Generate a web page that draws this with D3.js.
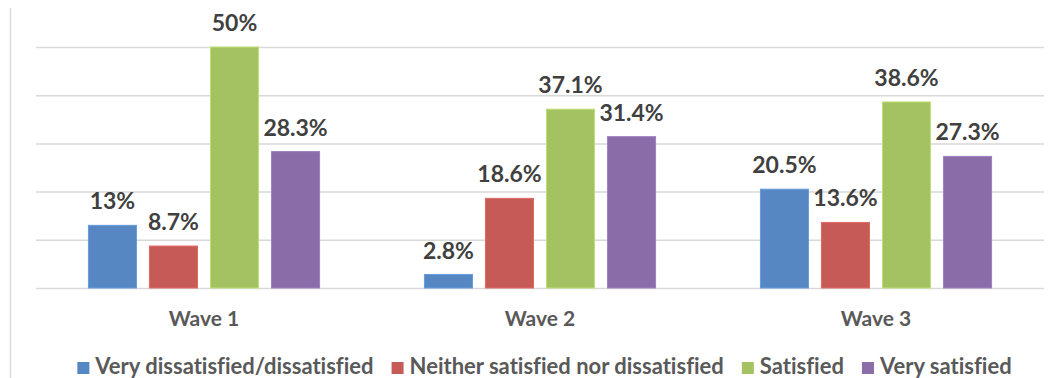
<!DOCTYPE html>
<html>
<head>
<meta charset="utf-8">
<script src="https://cdn.jsdelivr.net/npm/d3@7"></script>
<style>
  html, body { margin: 0; padding: 0; background: #fff; }
  svg { display: block; }
  text { font-family: Lato, "Open Sans", sans-serif; font-weight: bold; font-variant-ligatures: none; }
</style>
</head>
<body>
<svg id="chart" width="1056" height="378"></svg>
<script>
// Satisfaction share (%) by survey wave
const waves = ["Wave 1", "Wave 2", "Wave 3"];
const seriesNames = [
  "Very dissatisfied/dissatisfied",
  "Neither satisfied nor dissatisfied",
  "Satisfied",
  "Very satisfied"
];
const veryDissatisfied = [13, 2.8, 20.5];
const neither = [8.7, 18.6, 13.6];
const satisfied = [50, 37.1, 38.6];
const verySatisfied = [28.3, 31.4, 27.3];
const valueLabels = [
  ["13%", "2.8%", "20.5%"],
  ["8.7%", "18.6%", "13.6%"],
  ["50%", "37.1%", "38.6%"],
  ["28.3%", "31.4%", "27.3%"]
];
const yTicks = [0, 10, 20, 30, 40, 50];
const colors = ["#5687C3", "#C55A56", "#A5C263", "#8A6DA8"];

const seriesValues = [veryDissatisfied, neither, satisfied, verySatisfied];

const svg = d3.select("#chart");
const plot = { left: 36, right: 1044, top: 47, bottom: 288 };

const y = d3.scaleLinear().domain([0, 50]).range([plot.bottom, plot.top]);
const x = d3.scaleBand().domain(waves).range([plot.left, plot.right]).padding(0);
const groupWidth = x.bandwidth() * 0.688;
const xs = d3.scaleBand()
  .domain(d3.range(seriesNames.length))
  .range([-groupWidth / 2, groupWidth / 2])
  .paddingInner(0.213)
  .paddingOuter(0);

// left frame line
svg.append("line")
  .attr("x1", 10.5).attr("x2", 10.5)
  .attr("y1", 8).attr("y2", 378)
  .attr("stroke", "#d9d9d9").attr("stroke-width", 1.5);

// horizontal gridlines
const yAxis = d3.axisLeft(y).tickValues(yTicks).tickSize(-(plot.right - plot.left)).tickFormat("");
const gy = svg.append("g").attr("transform", `translate(${plot.left},0)`).call(yAxis);
gy.select(".domain").remove();
gy.selectAll(".tick line").attr("stroke", "#d9d9d9").attr("stroke-width", 1.5);

// bars
const groups = svg.append("g").selectAll("g")
  .data(seriesNames)
  .join("g")
  .attr("fill", (d, i) => colors[i]);

groups.each(function (name, si) {
  const g = d3.select(this);
  const data = waves.map((w, wi) => ({ wave: w, value: seriesValues[si][wi], label: valueLabels[si][wi] }));
  g.selectAll("rect")
    .data(data)
    .join("rect")
    .attr("x", d => x(d.wave) + x.bandwidth() / 2 + xs(si))
    .attr("width", xs.bandwidth())
    .attr("y", d => y(d.value))
    .attr("height", d => y(0) - y(d.value))
    .attr("stroke", d3.color(colors[si]).brighter(0.4))
    .attr("stroke-width", 1);
  g.selectAll("text")
    .data(data)
    .join("text")
    .attr("x", d => x(d.wave) + x.bandwidth() / 2 + xs(si) + xs.bandwidth() / 2)
    .attr("y", d => y(d.value) - 16)
    .attr("text-anchor", "middle")
    .attr("fill", "#404040")
    .attr("font-size", 23)
    .text(d => d.label);
});

// category axis labels
const xAxis = d3.axisBottom(x).tickSize(0).tickPadding(0);
const gx = svg.append("g").attr("transform", `translate(0,${plot.bottom})`).call(xAxis);
gx.select(".domain").remove();
gx.selectAll(".tick text")
  .attr("dy", null)
  .attr("y", 38)
  .attr("fill", "#595959")
  .attr("font-size", 21)
  .style("font-family", "Lato, sans-serif")
  .style("font-weight", "bold")
  .style("font-variant-ligatures", "none");

// legend
const legend = svg.append("g").attr("transform", "translate(0,374)");
const items = legend.selectAll("g").data(seriesNames).join("g");
items.append("rect")
  .attr("width", 12).attr("height", 12).attr("y", -12)
  .attr("fill", (d, i) => colors[i]);
items.append("text")
  .attr("x", 18)
  .attr("fill", "#595959")
  .attr("font-size", 22)
  .text(d => d);
const widths = [];
items.each(function () { widths.push(this.getBBox().width); });
const gap = 18;
const total = d3.sum(widths) + gap * (widths.length - 1);
let cursor = 82 + (925 - total) / 2;
items.attr("transform", (d, i) => {
  const t = `translate(${cursor},0)`;
  cursor += widths[i] + gap;
  return t;
});
</script>
</body>
</html>
